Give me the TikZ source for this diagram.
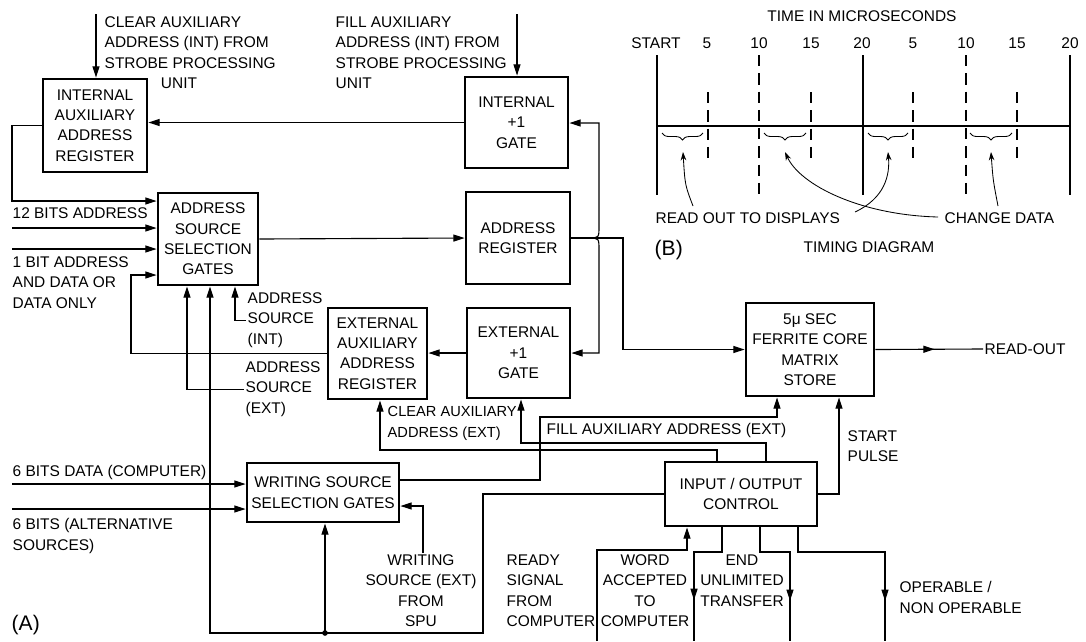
\documentclass[tikz,border=0pt]{standalone}
\usepackage{fontspec}
\setmainfont{Liberation Sans}
\usetikzlibrary{arrows.meta,calc,decorations.pathreplacing,decorations.markings}

\begin{document}
\begin{tikzpicture}[
    x=0.025cm, y=-0.025cm,
    font=\fontsize{11}{14.5}\selectfont,
    blk/.style={draw=black, line width=2pt, align=center, inner sep=1pt},
    sz/.style 2 args={minimum width=#1*0.025cm, minimum height=#2*0.025cm},
    wire/.style={line width=0.8pt},
    arr/.style={wire, -{Triangle[length=8pt,width=5pt]}},
    midarr/.style={wire, postaction={decorate}, decoration={markings,
        mark=at position #1 with {\arrow{Triangle[length=8pt,width=5pt]}}}},
    lbl/.style={inner sep=1pt, align=left},
    solidline/.style={line width=1pt},
    dashline/.style={line width=1pt, dash pattern=on 8pt off 5pt},
    brc/.style={line width=0.6pt, decorate, decoration={brace, mirror, amplitude=5pt}},
    tarr/.style={line width=0.6pt, -{Stealth[length=6pt,width=4pt]}}
]
    \useasboundingbox (0,0) rectangle (1086,641);

    % blocks
    \node[blk, sz={104}{93}] (iaar) at (95,125.5) {INTERNAL\\AUXILIARY\\ADDRESS\\REGISTER};
    \node[blk, sz={103}{91}] (ipg) at (516.5,122.5) {INTERNAL\\+1\\GATE};
    \node[blk, sz={100}{92}] (assg) at (208,239) {ADDRESS\\SOURCE\\SELECTION\\GATES};
    \node[blk, sz={104}{92}] (areg) at (518,238) {ADDRESS\\REGISTER};
    \node[blk, sz={99}{91}] (eaar) at (377.5,353.5) {EXTERNAL\\AUXILIARY\\ADDRESS\\REGISTER};
    \node[blk, sz={103}{90}] (epg) at (518.5,353) {EXTERNAL\\+1\\GATE};
    \node[blk, sz={128}{93}] (store) at (810,349.5) {5μ SEC\\FERRITE CORE\\MATRIX\\STORE};
    \node[blk, sz={152}{59}] (wssg) at (323,492.5) {WRITING SOURCE\\SELECTION GATES};
    \node[blk, sz={152}{64}] (ioc) at (741,494) {INPUT / OUTPUT\\CONTROL};

    % strobe processing unit inputs
    \node[lbl, anchor=north west] (ciLbl) at (103,15) {CLEAR AUXILIARY\\ADDRESS (INT) FROM\\STROBE PROCESSING\\\hspace*{40pt}UNIT};
    \coordinate (ciTop) at (96,14);
    \draw[arr] (ciTop) -- (ciTop |- iaar.north);
    \node[lbl, anchor=north west] (fiLbl) at (334,15) {FILL AUXILIARY\\ADDRESS (INT) FROM\\STROBE PROCESSING\\UNIT};
    \coordinate (fiTop) at (517,14);
    \draw[arr] (fiTop) -- (fiTop |- ipg.north);
    \draw[arr] (ipg.west) -- (ipg.west -| iaar.east);

    % address source selection
    \draw[arr] (iaar.west) -| (12,201) -- (assg.west |- 0,201);
    \node[lbl, anchor=west] (a12Lbl) at (11,213) {12 BITS ADDRESS};
    \coordinate (in12) at (12,228);
    \draw[arr] (in12) -- (in12 -| assg.west);
    \coordinate (in1) at (12,249);
    \draw[arr] (in1) -- (in1 -| assg.west);
    \node[lbl, anchor=north west] (a1Lbl) at (11,255) {1 BIT ADDRESS\\AND DATA OR\\DATA ONLY};
    \draw[arr] (eaar.west) -| (131,275) -- (assg.west |- 0,275);
    \draw[arr] (assg.east) -- (areg.west);
    \node[lbl, anchor=north west] (asiLbl) at (246,291) {ADDRESS\\SOURCE\\(INT)};
    \draw[arr] (asiLbl.west) -| (assg.south -| 235,0);
    \node[lbl, anchor=north west] (aseLbl) at (244,360) {ADDRESS\\SOURCE\\(EXT)};
    \draw[arr] (aseLbl.west) -| (assg.south -| 187,0);

    % address register fan-out
    \coordinate (brj) at (588,238);
    \draw[arr] (areg.east) -| (store.west -| 623,0) -- (store.west);
    \draw[arr] (brj) .. controls (599,238) .. (599,226) -- (599,123) -- (ipg.east |- 0,123);
    \draw[arr] (brj) .. controls (599,238) .. (599,250) -- (599,353) -- (epg.east |- 0,353);
    \draw[arr] (epg.west) -- (epg.west -| eaar.east);
    \node[lbl, anchor=west] (roLbl) at (983,349) {READ-OUT};
    \draw[midarr=0.55] (store.east) -- (roLbl.west);

    % writing source selection
    \node[lbl, anchor=west] (d6Lbl) at (11,472) {6 BITS DATA (COMPUTER)};
    \coordinate (in6d) at (12,484);
    \draw[arr] (in6d) -- (in6d -| wssg.west);
    \coordinate (in6a) at (12,509);
    \draw[arr] (in6a) -- (in6a -| wssg.west);
    \node[lbl, anchor=north west] (a6Lbl) at (11,517) {6 BITS (ALTERNATIVE\\SOURCES)};
    \node[lbl, align=center, anchor=north] (wsLbl) at (421,553) {WRITING\\SOURCE (EXT)\\FROM\\SPU};
    \draw[arr] (wsLbl.north -| 423,0) |- (wssg.east |- 0,506);
    \draw[arr] (wssg.east |- 0,480) -| (540,417) -| (store.south -| 777,0);

    % control bus
    \coordinate (busj) at (325,633);
    \draw[arr] (ioc.west) -| (483,633) -| (assg.south -| 210,0);
    \fill (busj) circle (2pt);
    \draw[arr] (busj) -- (busj |- wssg.south);

    % input / output control
    \node[lbl, anchor=west] (feLbl) at (545,430) {FILL AUXILIARY ADDRESS (EXT)};
    \draw[arr] (ioc.north -| 766,0) -- (766,443) -| (epg.south -| 521,0);
    \draw[arr] (ioc.north -| 717,0) -- (717,450) -| (eaar.south -| 380,0);
    \node[lbl, anchor=north west, font=\fontsize{10.4}{14.5}\selectfont] (ceLbl) at (386,405) {CLEAR AUXILIARY\\ADDRESS (EXT)};
    \draw[arr] (ioc.east) -| (store.south -| 839,0);
    \node[lbl, anchor=north west] (spLbl) at (846,429) {START\\PULSE};

    \coordinate (rdyB) at (597,641);
    \draw[arr] (rdyB) |- (687,550) -- (ioc.south -| 687,0);
    \node[lbl, anchor=north west] (rdyLbl) at (505,553) {READY\\SIGNAL\\FROM\\COMPUTER};
    \coordinate (wacB) at (694,641);
    \draw[midarr=0.71] (ioc.south -| 722,0) |- (wacB |- 0,552) -- (wacB);
    \node[lbl, align=center, anchor=north] (wacLbl) at (645,553) {WORD\\ACCEPTED\\TO\\COMPUTER};
    \coordinate (eutB) at (790,641);
    \draw[midarr=0.72] (ioc.south -| 760,0) |- (eutB |- 0,552) -- (eutB);
    \node[lbl, align=center, anchor=north] (eutLbl) at (742,553) {END\\UNLIMITED\\TRANSFER};
    \coordinate (opB) at (885,641);
    \draw[midarr=0.8] (ioc.south -| 798,0) |- (opB |- 0,552) -- (opB);
    \node[lbl, anchor=north west] (opLbl) at (898,580) {OPERABLE /\\NON OPERABLE};

    \node[lbl, anchor=west, font=\fontsize{15}{18}\selectfont] (aLbl) at (10,625) {(A)};

    % timing diagram
    \node (timLbl) at (862,16) {TIME IN MICROSECONDS};
    \foreach \x/\t in {656/START, 707/5, 759/10, 811/15, 862/20, 913/5, 966/10, 1017/15, 1070/20}
        \node at (\x,43) {\t};
    \draw[solidline] (657,126) -- (1070,126);
    \foreach \x in {657,863,1070}
        \draw[solidline] (\x,55) -- (\x,195);
    \foreach \x in {759,966}
        \draw[dashline] (\x,55) -- (\x,195);
    \foreach \x in {708,811,913,1017}
        \draw[dashline] (\x,92) -- (\x,162);
    \foreach \a/\b in {662/703, 764/806, 868/908, 970/1012}
        \draw[brc] (\a,133) -- (\b,133);
    \coordinate (br1) at (683,152);
    \coordinate (br2) at (785,152);
    \coordinate (br3) at (888,152);
    \coordinate (br4) at (991,152);
    \node[lbl, anchor=west] (rodLbl) at (654,218) {READ OUT TO DISPLAYS};
    \node[lbl, anchor=west] (cdLbl) at (943,218) {CHANGE DATA};
    \node (tdLbl) at (869,247) {TIMING DIAGRAM};
    \node[lbl, anchor=west, font=\fontsize{15}{18}\selectfont] (bLbl) at (653,250) {(B)};
    \coordinate (rd1) at (693,206);
    \coordinate (rd2) at (855,212);
    \coordinate (cd1) at (938,217);
    \coordinate (cd2) at (998,206);
    \draw[tarr] (rd1) .. controls (685,185) .. (br1);
    \draw[tarr] (rd2) .. controls (885,198) and (890,175) .. (br3);
    \draw[tarr] (cd1) .. controls (860,215) and (800,185) .. (br2);
    \draw[tarr] (cd2) .. controls (993,180) .. (br4);
\end{tikzpicture}
\end{document}
